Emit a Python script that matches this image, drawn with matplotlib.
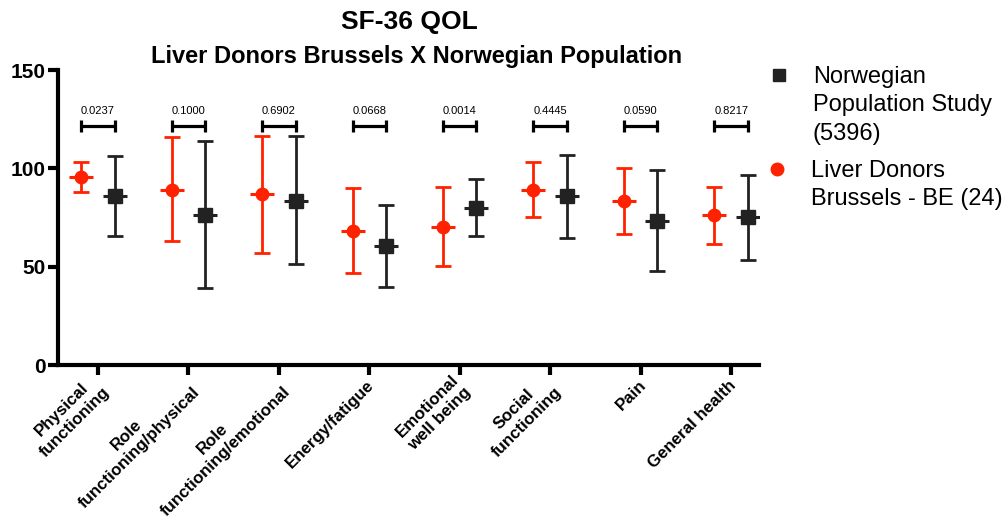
import numpy as np
import matplotlib
matplotlib.use('Agg')
import matplotlib.pyplot as plt
from matplotlib.lines import Line2D

plt.rcParams['font.family'] = ['Liberation Sans', 'DejaVu Sans']

# data (mean, upper SD bound, lower SD bound)
categories = ['Physical\nfunctioning', 'Role\nfunctioning/physical', 'Role\nfunctioning/emotional',
              'Energy/fatigue', 'Emotional\nwell being', 'Social\nfunctioning', 'Pain', 'General health']
donors_mean = [95.7, 89.3, 86.8, 68.3, 70.3, 89.3, 83.5, 76.1]
donors_hi = [103.4, 115.8, 116.4, 90.1, 90.5, 103.2, 100.5, 90.7]
donors_lo = [88.1, 63.2, 57.1, 46.9, 50.5, 75.4, 66.8, 61.5]
norway_mean = [86.1, 76.4, 83.7, 60.5, 80.0, 86.1, 73.2, 75.1]
norway_hi = [106.6, 113.9, 116.6, 81.2, 94.6, 106.9, 99.1, 96.6]
norway_lo = [65.7, 39.1, 51.3, 39.8, 65.6, 64.7, 47.8, 53.4]
p_values = ['0.0237', '0.1000', '0.6902', '0.0668', '0.0014', '0.4445', '0.0590', '0.8217']

red = '#FF2200'
dark = '#222222'
x = np.arange(len(categories))
off = 0.185

fig = plt.figure(figsize=(10.06, 5.24), dpi=100)
ax = fig.add_axes([0.0577, 0.3034, 0.697, 0.5626])

dm = np.array(donors_mean)
nm = np.array(norway_mean)
ax.errorbar(x - off, dm, yerr=[dm - np.array(donors_lo), np.array(donors_hi) - dm],
            fmt='o', color=red, ms=9, elinewidth=2, capsize=5.5, capthick=2, zorder=3)
ax.plot(x - off, dm, '_', color=red, ms=17, mew=2.2, zorder=3)
ax.errorbar(x + off, nm, yerr=[nm - np.array(norway_lo), np.array(norway_hi) - nm],
            fmt='s', color=dark, ms=9.5, elinewidth=2, capsize=5.5, capthick=2, zorder=3)
ax.plot(x + off, nm, '_', color=dark, ms=17, mew=2.2, zorder=3)

# p-value brackets
ax.errorbar(x, [121.5] * len(x), xerr=off, fmt='none', color='black',
            elinewidth=2.3, capsize=4, capthick=2.3)
for xi, p in zip(x, p_values):
    ax.text(xi, 129, p, ha='center', va='center', fontsize=8)

ax.set_xlim(-0.44, 7.31)
ax.set_ylim(0, 150)
ax.set_yticks([0, 50, 100, 150])
ax.set_xticks(x)
ax.set_xticklabels([])
# rotated category labels, centred block anchored below each tick
for xi, lab in zip(x, categories):
    ax.annotate(lab, xy=(xi, 0), xycoords=ax.get_xaxis_transform(),
                xytext=(2, -13), textcoords='offset points',
                rotation=45, rotation_mode='anchor', ha='right', va='center',
                multialignment='center', fontsize=12.2, fontweight='bold', linespacing=1.25)
for lab in ax.get_yticklabels():
    lab.set_fontweight('bold')
    lab.set_fontsize(15)
ax.tick_params(width=3, length=7, pad=2)
ax.spines['top'].set_visible(False)
ax.spines['right'].set_visible(False)
ax.spines['left'].set_linewidth(3)
ax.spines['bottom'].set_linewidth(3)

fig.text(409 / 1006, 1 - 22 / 524, 'SF-36 QOL', ha='center', va='center',
         fontsize=19, fontweight='bold')
fig.text(417 / 1006, 1 - 56 / 524, 'Liver Donors Brussels X Norwegian Population', ha='center',
         va='center', fontsize=17, fontweight='bold')

# legend
fig.add_artist(Line2D([779 / 1006], [1 - 75 / 524], marker='s', ms=9, color=dark,
                      linestyle='none', transform=fig.transFigure))
fig.text(813 / 1006, 1 - 66 / 524, 'Norwegian\nPopulation Study\n(5396)', ha='left', va='top',
         fontsize=17, linespacing=1.37)
fig.add_artist(Line2D([777 / 1006], [1 - 169 / 524], marker='o', ms=9, color=red,
                      linestyle='none', transform=fig.transFigure))
fig.text(811 / 1006, 1 - 160 / 524, 'Liver Donors\nBrussels - BE (24)', ha='left', va='top',
         fontsize=17, linespacing=1.37)

fig.savefig('out.png', dpi=100)
